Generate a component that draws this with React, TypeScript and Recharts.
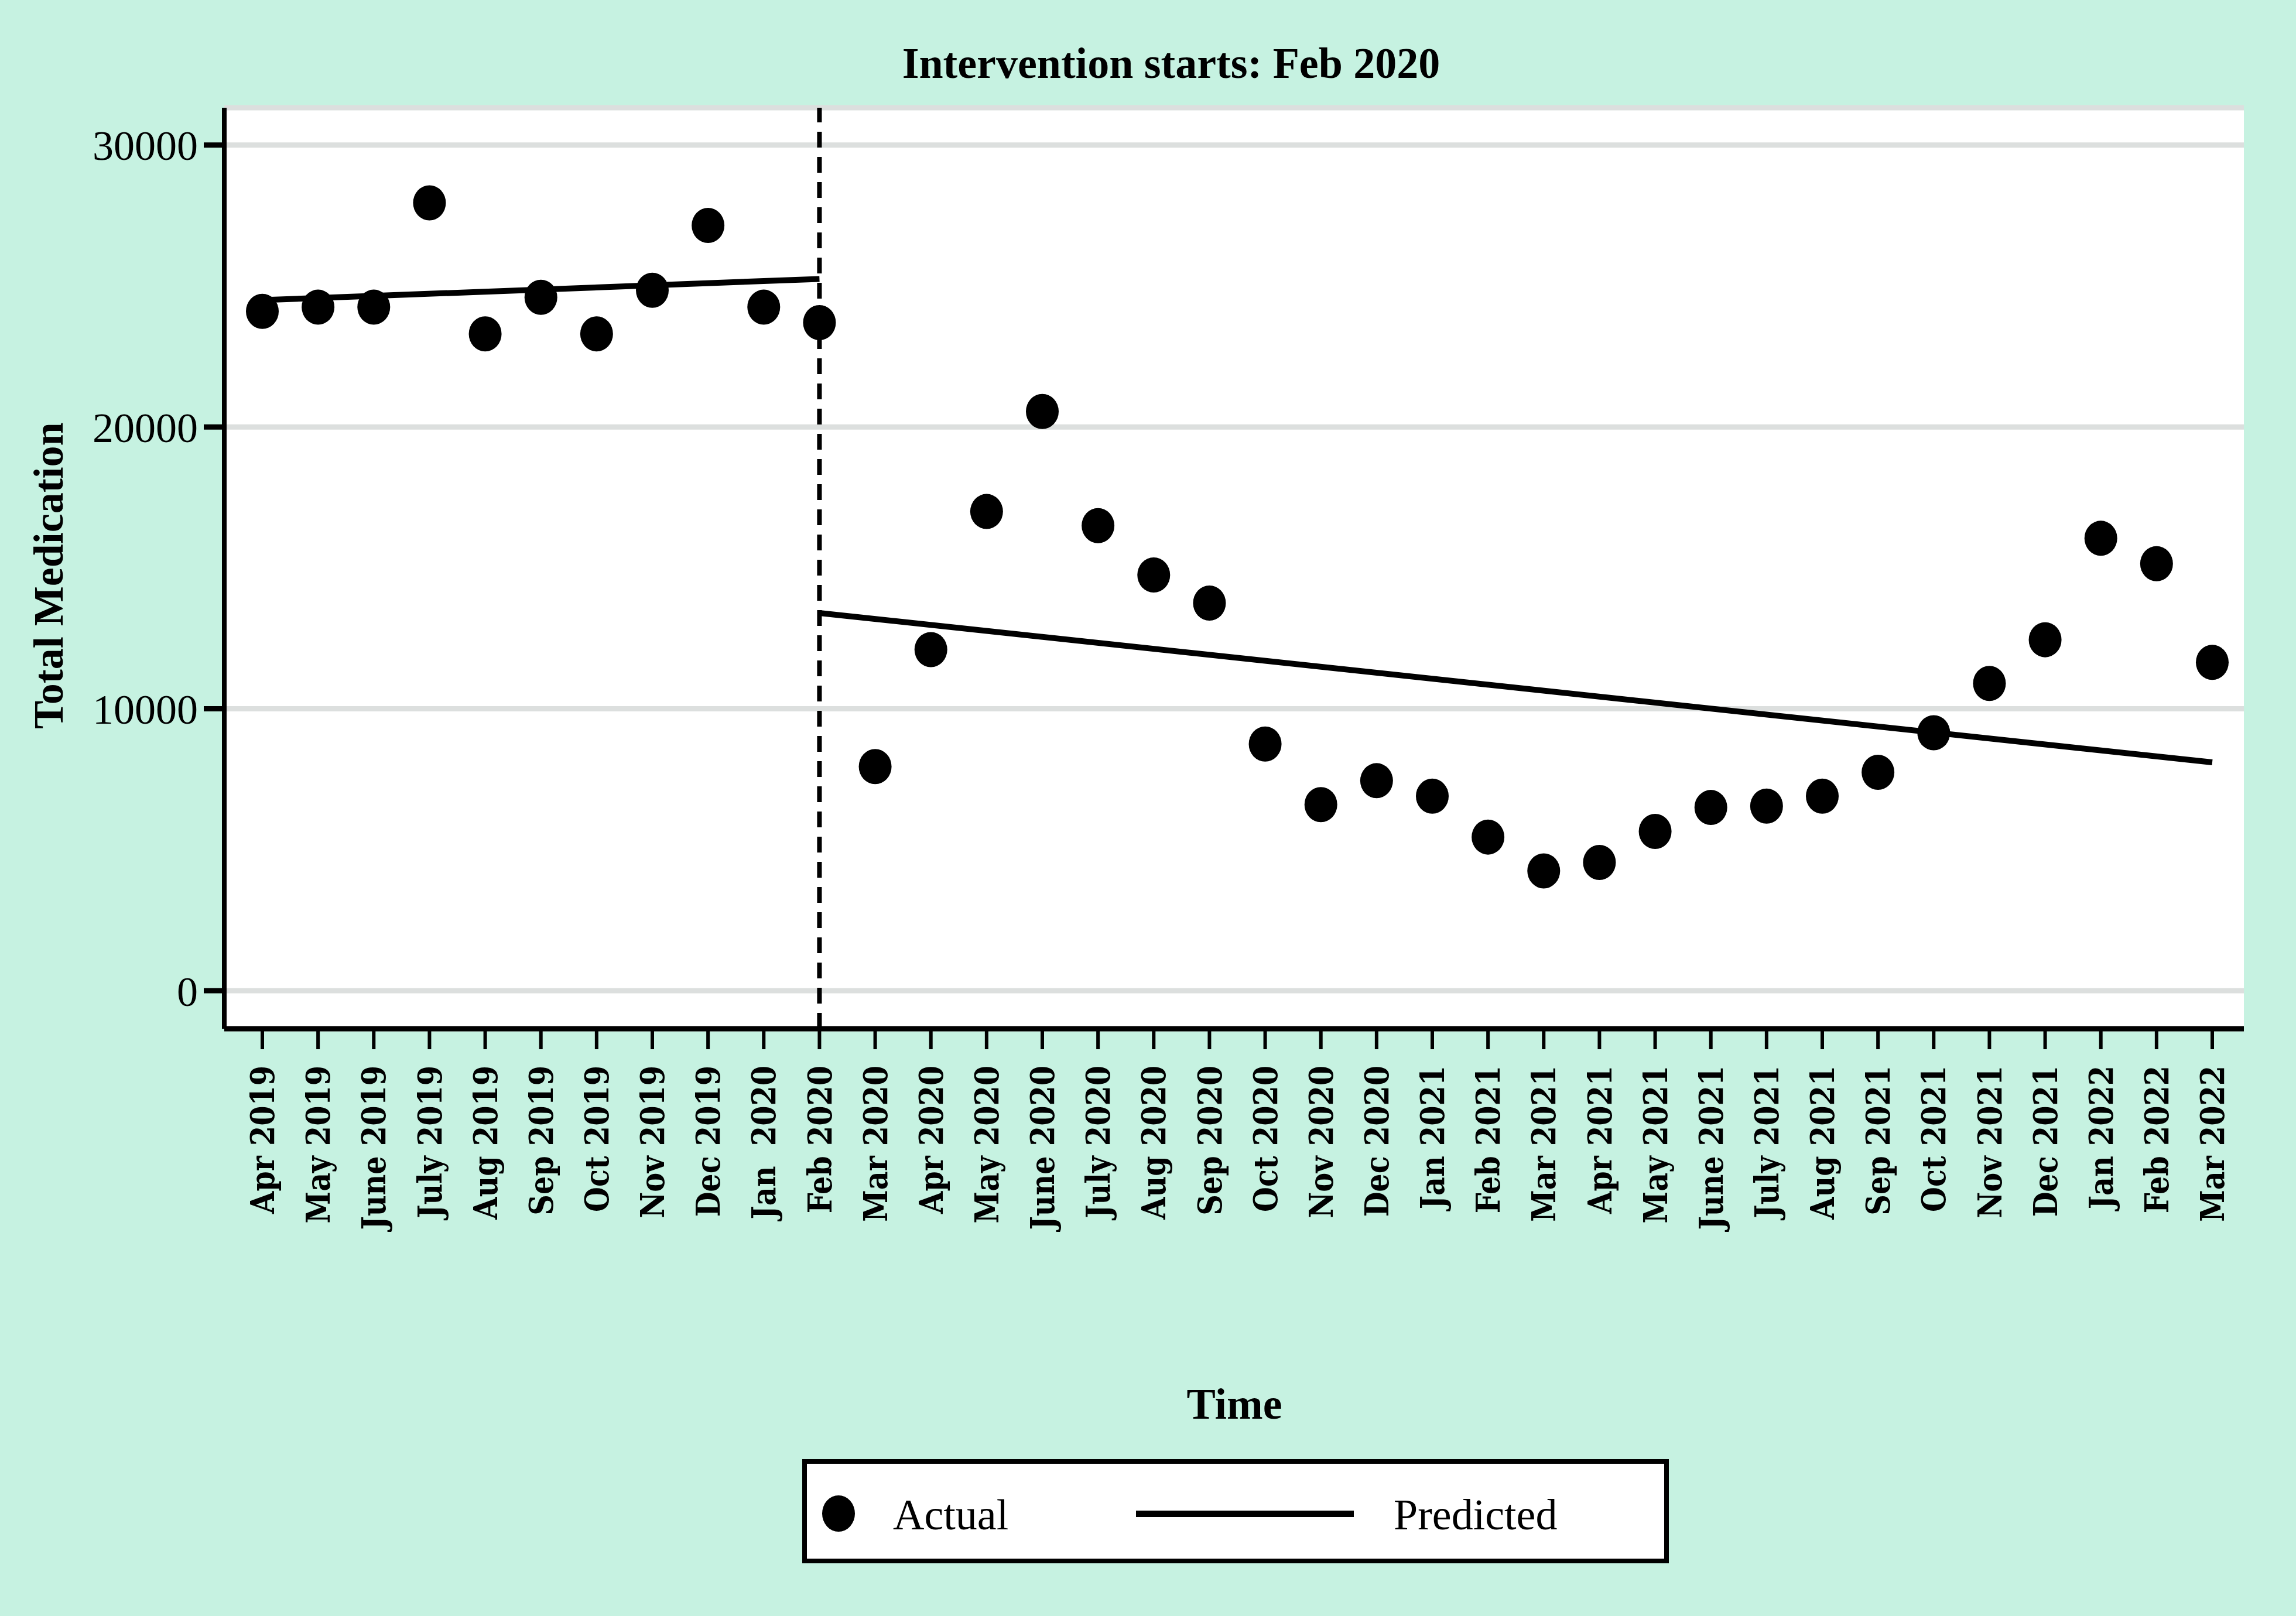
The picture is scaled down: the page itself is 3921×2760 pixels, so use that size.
import React from 'react';
import {
  ComposedChart,
  Line,
  Scatter,
  XAxis,
  YAxis,
  CartesianGrid,
  ReferenceLine,
  Legend,
} from 'recharts';

const months = [
  'Apr 2019', 'May 2019', 'June 2019', 'July 2019', 'Aug 2019', 'Sep 2019',
  'Oct 2019', 'Nov 2019', 'Dec 2019', 'Jan  2020', 'Feb 2020', 'Mar 2020',
  'Apr 2020', 'May 2020', 'June 2020', 'July 2020', 'Aug 2020', 'Sep 2020',
  'Oct 2020', 'Nov 2020', 'Dec 2020', 'Jan 2021', 'Feb 2021', 'Mar 2021',
  'Apr 2021', 'May 2021', 'June 2021', 'July 2021', 'Aug 2021', 'Sep 2021',
  'Oct 2021', 'Nov 2021', 'Dec 2021', 'Jan 2022', 'Feb 2022', 'Mar 2022',
];

const actual = [
  24100, 24250, 24250, 27950, 23300, 24600,
  23300, 24850, 27150, 24250, 23700, 7950,
  12100, 17000, 20550, 16500, 14750, 13750,
  8750, 6600, 7450, 6900, 5450, 4250,
  4550, 5650, 6500, 6550, 6900, 7750,
  9150, 10900, 12450, 16050, 15150, 11650,
];

// fitted trend, only the segment ends are given
const predictedPre: (number | null)[] = [
  24500, null, null, null, null, null, null, null, null, null, 25250,
  ...Array(25).fill(null),
];
const predictedPost: (number | null)[] = [
  ...Array(10).fill(null), 13400,
  ...Array(24).fill(null), 8100,
];

const yTicks = [0, 10000, 20000, 30000];

const data = months.map((m, i) => ({
  month: m,
  actual: actual[i],
  pre: predictedPre[i],
  post: predictedPost[i],
}));

const BG = '#c6f2e1';
const SERIF = "'Liberation Serif', 'Times New Roman', serif";

const XTick = (props: any) => {
  const { x, y, payload } = props;
  return (
    <text
      x={0}
      y={0}
      transform={`translate(${x}, ${y}) rotate(-90) scale(0.88, 1)`}
      textAnchor="end"
      dy="0.36em"
      fontFamily="'DejaVu Serif', serif"
      fontWeight="bold"
      fontSize={56}
      fill="#000"
      style={{ whiteSpace: 'pre' }}
    >
      {payload.value}
    </text>
  );
};

const Dot = (props: any) => {
  const { cx, cy } = props;
  if (cx == null || cy == null) return null;
  return <ellipse cx={cx} cy={cy} rx={28} ry={30} fill="#000" />;
};

const LegendBox = () => (
  <div
    style={{
      boxSizing: 'border-box',
      width: 1480,
      height: 178,
      border: '8px solid #000',
      background: '#fff',
      position: 'relative',
      fontFamily: SERIF,
      fontSize: 74,
      color: '#000',
    }}
  >
    <svg
      style={{ position: 'absolute', left: 24, top: 52 }}
      width={60}
      height={66}
    >
      <ellipse cx={30} cy={33} rx={28} ry={31} fill="#000" />
    </svg>
    <div style={{ position: 'absolute', left: 147, top: 6, height: 162, display: 'flex', alignItems: 'center' }}>
      Actual
    </div>
    <div style={{ position: 'absolute', left: 562, top: 80, width: 372, height: 11, background: '#000' }} />
    <div style={{ position: 'absolute', left: 1002, top: 6, height: 162, display: 'flex', alignItems: 'center' }}>
      Predicted
    </div>
  </div>
);

const App = () => {
  return (
    <div
      style={{
        position: 'absolute',
        left: 0,
        top: 0,
        width: 3921,
        height: 2760,
        background: BG,
        overflow: 'hidden',
      }}
    >
      <ComposedChart
        width={3921}
        height={2760}
        data={data}
        margin={{ top: 184, right: 89, bottom: 603, left: 183 }}
      >
        <CartesianGrid
          vertical={false}
          stroke="#dcdfde"
          strokeWidth={9}
          fill="#ffffff"
          fillOpacity={1}
        />
        <XAxis
          dataKey="month"
          scale="point"
          interval={0}
          height={400}
          padding={{ left: 65, right: 54 }}
          tickSize={35}
          tickMargin={28}
          tick={<XTick />}
          axisLine={{ stroke: '#000', strokeWidth: 9 }}
          tickLine={{ stroke: '#000', strokeWidth: 6 }}
        />
        <YAxis
          type="number"
          width={200}
          domain={[-1350, 31325]}
          ticks={yTicks}
          allowDataOverflow
          tickSize={35}
          tickMargin={10}
          tick={{ fill: '#000', fontSize: 72, fontFamily: SERIF }}
          axisLine={{ stroke: '#000', strokeWidth: 8 }}
          tickLine={{ stroke: '#000', strokeWidth: 9 }}
        />
        <ReferenceLine
          x="Feb 2020"
          stroke="#000"
          strokeWidth={8}
          strokeDasharray="27 16"
        />
        <Line
          dataKey="pre"
          stroke="#000"
          strokeWidth={10}
          dot={false}
          activeDot={false}
          connectNulls
          isAnimationActive={false}
          legendType="line"
          name="Predicted"
        />
        <Line
          dataKey="post"
          stroke="#000"
          strokeWidth={10}
          dot={false}
          activeDot={false}
          connectNulls
          isAnimationActive={false}
          legendType="none"
        />
        <Scatter
          dataKey="actual"
          fill="#000"
          shape={<Dot />}
          isAnimationActive={false}
          name="Actual"
        />
        <Legend
          layout="horizontal"
          verticalAlign="middle"
          align="center"
          wrapperStyle={{ left: 1370, top: 2492, width: 1480, height: 178 }}
          content={() => <LegendBox />}
        />
      </ComposedChart>

      <div
        style={{
          position: 'absolute',
          left: 1000,
          width: 2000,
          top: 70,
          textAlign: 'center',
          fontFamily: SERIF,
          fontWeight: 'bold',
          fontSize: 74,
          lineHeight: '76px',
          color: '#000',
        }}
      >
        Intervention starts: Feb 2020
      </div>
      <div
        style={{
          position: 'absolute',
          left: -317,
          top: 947,
          width: 800,
          height: 72,
          lineHeight: '72px',
          textAlign: 'center',
          transform: 'rotate(-90deg)',
          fontFamily: SERIF,
          fontWeight: 'bold',
          fontSize: 72,
          color: '#000',
        }}
      >
        Total Medication
      </div>
      <div
        style={{
          position: 'absolute',
          left: 1608,
          width: 1000,
          top: 2360,
          textAlign: 'center',
          fontFamily: SERIF,
          fontWeight: 'bold',
          fontSize: 74,
          lineHeight: '76px',
          color: '#000',
        }}
      >
        Time
      </div>
    </div>
  );
};

export default App;
